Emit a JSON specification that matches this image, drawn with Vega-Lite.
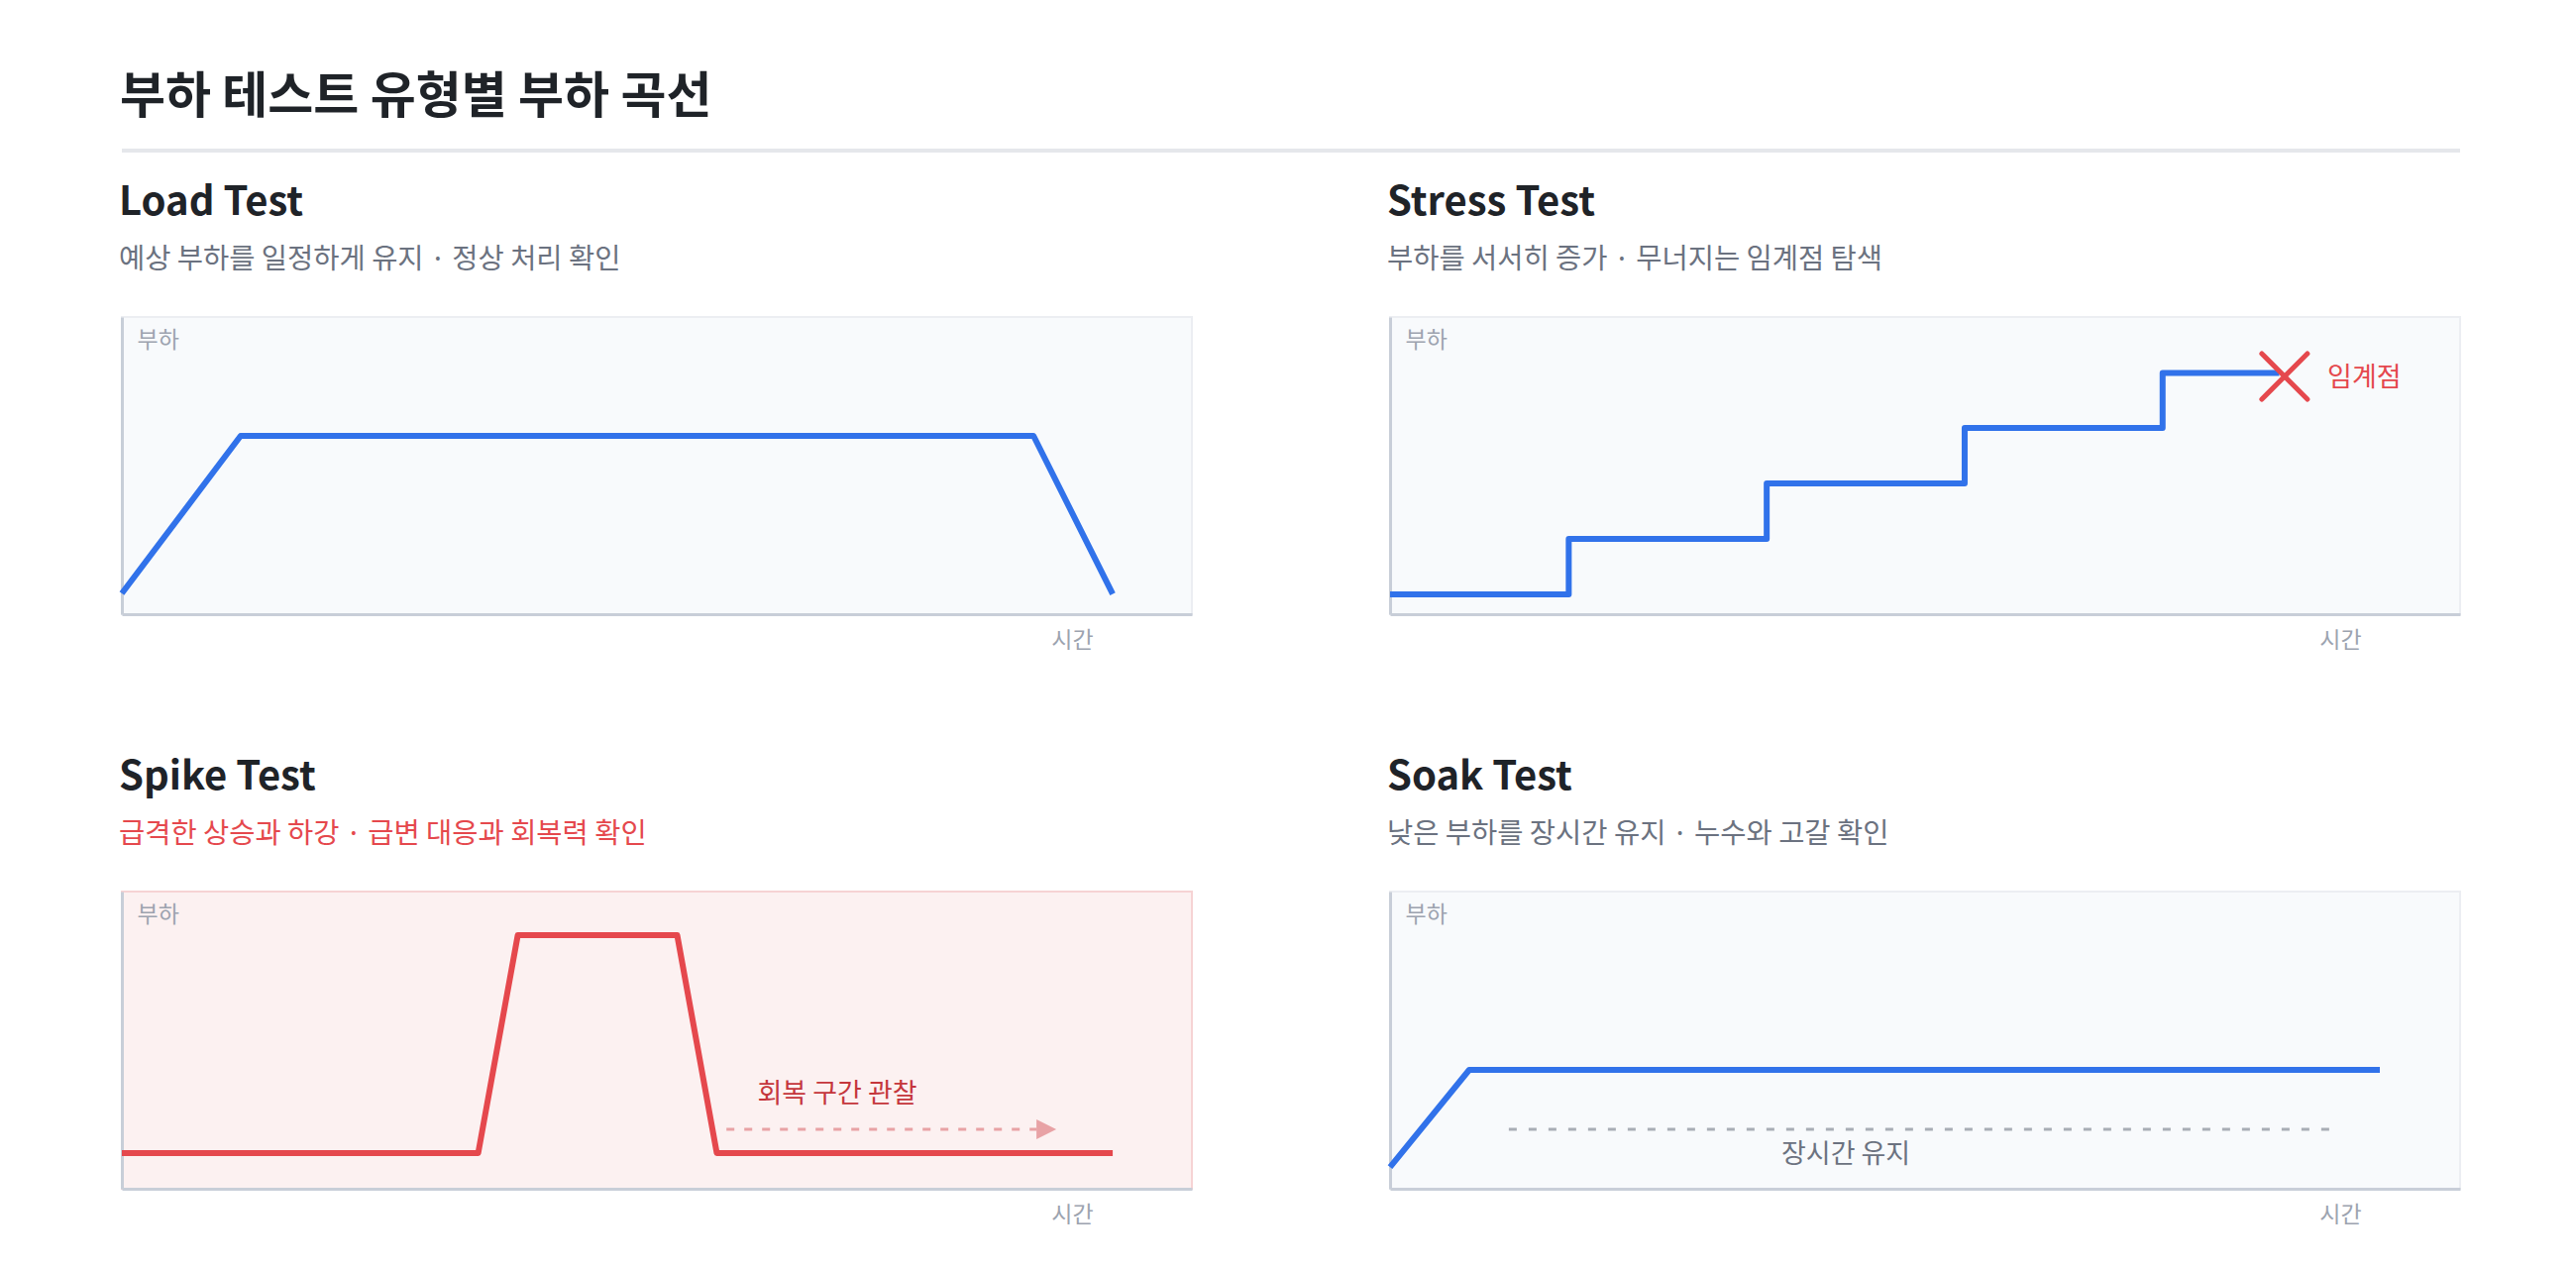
{
  "$schema": "https://vega.github.io/schema/vega-lite/v6.json",
  "background": "#FFFFFF",
  "padding": {"left": 119, "top": 74, "right": 40, "bottom": 40},
  "config": {
    "font": "Noto Sans CJK KR",
    "view": {"fill": "#F8FAFC", "stroke": "#ECEEF2", "strokeWidth": 2},
    "title": {"anchor": "start", "font": "Noto Sans CJK KR", "fontWeight": "bold", "color": "#1F2328", "fontSize": 40, "subtitleFont": "Noto Sans CJK KR", "subtitleFontSize": 28.5, "subtitleColor": "#6B7280", "subtitlePadding": 23, "offset": 44},
    "axis": {"domainColor": "#C8CED8", "domainWidth": 3, "ticks": false, "labels": false, "grid": false, "titleFont": "Noto Sans CJK KR", "titleFontSize": 23, "titleFontWeight": "normal", "titleColor": "#9CA3AF"},
    "axisX": {"titleX": 959, "titleY": 26, "titleAlign": "center", "titleBaseline": "middle"},
    "axisY": {"titleX": 15, "titleY": 23, "titleAngle": 0, "titleAlign": "left", "titleBaseline": "middle"},
    "line": {"strokeWidth": 6, "strokeJoin": "round"},
    "text": {"font": "Noto Sans CJK KR", "fontSize": 27}
  },
  "spacing": 166,
  "bounds": "flush",
  "vconcat": [
    {
      "width": 2360,
      "height": 4,
      "view": {"stroke": null, "fill": null},
      "title": {"text": "부하 테스트 유형별 부하 곡선", "fontSize": 50, "offset": 26},
      "data": {"values": [{"a": 0, "b": 100, "c": 0.5}]},
      "mark": {"type": "rule", "color": "#E5E7EB", "strokeWidth": 4},
      "encoding": {
        "x": {"field": "a", "type": "quantitative", "scale": {"domain": [0, 100]}, "axis": null},
        "x2": {"field": "b"},
        "y": {"field": "c", "type": "quantitative", "scale": {"domain": [0, 1]}, "axis": null}
      }
    },
    {
      "spacing": 580,
      "bounds": "flush",
      "vconcat": [
        {
          "spacing": 200,
          "bounds": "flush",
          "hconcat": [
            {
              "width": 1080,
              "height": 300,
              "title": {"text": "Load Test", "subtitle": "예상 부하를 일정하게 유지 · 정상 처리 확인"},
              "layer": [
                {
                  "data": {"values": [{"x": 0, "y": 7}, {"x": 11.1, "y": 60}, {"x": 85.2, "y": 60}, {"x": 92.6, "y": 6.8}]},
                  "mark": {"type": "line", "color": "#3172EA"},
                  "encoding": {
                    "x": {"field": "x", "type": "quantitative", "scale": {"domain": [0, 100]}, "axis": {"title": "시간"}},
                    "y": {"field": "y", "type": "quantitative", "scale": {"domain": [0, 100]}, "axis": {"title": "부하"}}
                  }
                }
              ]
            },
            {
              "width": 1080,
              "height": 300,
              "title": {"text": "Stress Test", "subtitle": "부하를 서서히 증가 · 무너지는 임계점 탐색"},
              "layer": [
                {
                  "data": {"values": [{"x": 0, "y": 6.7}, {"x": 16.7, "y": 25.3}, {"x": 35.2, "y": 44}, {"x": 53.7, "y": 62.7}, {"x": 72.2, "y": 81.2}, {"x": 83.1, "y": 81.2}]},
                  "mark": {"type": "line", "color": "#3172EA", "interpolate": "step-after"},
                  "encoding": {
                    "x": {"field": "x", "type": "quantitative", "scale": {"domain": [0, 100]}, "axis": {"title": "시간"}},
                    "y": {"field": "y", "type": "quantitative", "scale": {"domain": [0, 100]}, "axis": {"title": "부하"}}
                  }
                },
                {
                  "data": {"values": [{"x": 83.6, "y": 80}]},
                  "mark": {"type": "point", "shape": "M-1,-1L1,1M1,-1L-1,1", "filled": false, "stroke": "#E5484D", "strokeWidth": 5, "strokeCap": "round", "size": 2116, "opacity": 1},
                  "encoding": {
                    "x": {"field": "x", "type": "quantitative", "scale": {"domain": [0, 100]}, "axis": {"title": "시간"}},
                    "y": {"field": "y", "type": "quantitative", "scale": {"domain": [0, 100]}, "axis": {"title": "부하"}}
                  }
                },
                {
                  "data": {"values": [{"x": 87.6, "y": 79.3, "label": "임계점"}]},
                  "mark": {"type": "text", "color": "#E5484D", "align": "left", "baseline": "middle"},
                  "encoding": {
                    "x": {"field": "x", "type": "quantitative", "scale": {"domain": [0, 100]}, "axis": {"title": "시간"}},
                    "y": {"field": "y", "type": "quantitative", "scale": {"domain": [0, 100]}, "axis": {"title": "부하"}},
                    "text": {"field": "label"}
                  }
                }
              ]
            }
          ]
        },
        {
          "spacing": 200,
          "bounds": "flush",
          "hconcat": [
            {
              "width": 1080,
              "height": 300,
              "view": {"fill": "#FCF1F1", "stroke": "#F6D3D4", "strokeWidth": 2},
              "title": {"text": "Spike Test", "subtitle": "급격한 상승과 하강 · 급변 대응과 회복력 확인", "subtitleColor": "#E5484D"},
              "layer": [
                {
                  "data": {"values": [{"x": 0, "y": 12}, {"x": 33.3, "y": 12}, {"x": 37, "y": 85.3}, {"x": 51.9, "y": 85.3}, {"x": 55.6, "y": 12}, {"x": 92.6, "y": 12}]},
                  "mark": {"type": "line", "color": "#E5484D"},
                  "encoding": {
                    "x": {"field": "x", "type": "quantitative", "scale": {"domain": [0, 100]}, "axis": {"title": "시간"}},
                    "y": {"field": "y", "type": "quantitative", "scale": {"domain": [0, 100]}, "axis": {"title": "부하"}}
                  }
                },
                {
                  "data": {"values": [{"x": 56.5, "x2": 85.5, "y": 20}]},
                  "mark": {"type": "rule", "color": "#E8A2A5", "strokeWidth": 3, "strokeDash": [8, 10]},
                  "encoding": {
                    "x": {"field": "x", "type": "quantitative", "scale": {"domain": [0, 100]}, "axis": {"title": "시간"}},
                    "x2": {"field": "x2"},
                    "y": {"field": "y", "type": "quantitative", "scale": {"domain": [0, 100]}, "axis": {"title": "부하"}}
                  }
                },
                {
                  "data": {"values": [{"x": 86.4, "y": 20}]},
                  "mark": {"type": "point", "shape": "M-1,-1L1,0L-1,1Z", "filled": true, "color": "#E8A2A5", "size": 400, "opacity": 1},
                  "encoding": {
                    "x": {"field": "x", "type": "quantitative", "scale": {"domain": [0, 100]}, "axis": {"title": "시간"}},
                    "y": {"field": "y", "type": "quantitative", "scale": {"domain": [0, 100]}, "axis": {"title": "부하"}}
                  }
                },
                {
                  "data": {"values": [{"x": 59.4, "y": 31.7, "label": "회복 구간 관찰"}]},
                  "mark": {"type": "text", "color": "#C5363C", "align": "left", "baseline": "middle"},
                  "encoding": {
                    "x": {"field": "x", "type": "quantitative", "scale": {"domain": [0, 100]}, "axis": {"title": "시간"}},
                    "y": {"field": "y", "type": "quantitative", "scale": {"domain": [0, 100]}, "axis": {"title": "부하"}},
                    "text": {"field": "label"}
                  }
                }
              ]
            },
            {
              "width": 1080,
              "height": 300,
              "title": {"text": "Soak Test", "subtitle": "낮은 부하를 장시간 유지 · 누수와 고갈 확인"},
              "layer": [
                {
                  "data": {"values": [{"x": 11.1, "x2": 88.1, "y": 20}]},
                  "mark": {"type": "rule", "color": "#A8ADB5", "strokeWidth": 3, "strokeDash": [8, 12]},
                  "encoding": {
                    "x": {"field": "x", "type": "quantitative", "scale": {"domain": [0, 100]}, "axis": {"title": "시간"}},
                    "x2": {"field": "x2"},
                    "y": {"field": "y", "type": "quantitative", "scale": {"domain": [0, 100]}, "axis": {"title": "부하"}}
                  }
                },
                {
                  "data": {"values": [{"x": 0, "y": 7.3}, {"x": 7.4, "y": 40}, {"x": 92.5, "y": 40}]},
                  "mark": {"type": "line", "color": "#3172EA"},
                  "encoding": {
                    "x": {"field": "x", "type": "quantitative", "scale": {"domain": [0, 100]}, "axis": {"title": "시간"}},
                    "y": {"field": "y", "type": "quantitative", "scale": {"domain": [0, 100]}, "axis": {"title": "부하"}}
                  }
                },
                {
                  "data": {"values": [{"x": 42.6, "y": 11.3, "label": "장시간 유지"}]},
                  "mark": {"type": "text", "color": "#6B7280", "align": "center", "baseline": "middle"},
                  "encoding": {
                    "x": {"field": "x", "type": "quantitative", "scale": {"domain": [0, 100]}, "axis": {"title": "시간"}},
                    "y": {"field": "y", "type": "quantitative", "scale": {"domain": [0, 100]}, "axis": {"title": "부하"}},
                    "text": {"field": "label"}
                  }
                }
              ]
            }
          ]
        }
      ]
    }
  ]
}
